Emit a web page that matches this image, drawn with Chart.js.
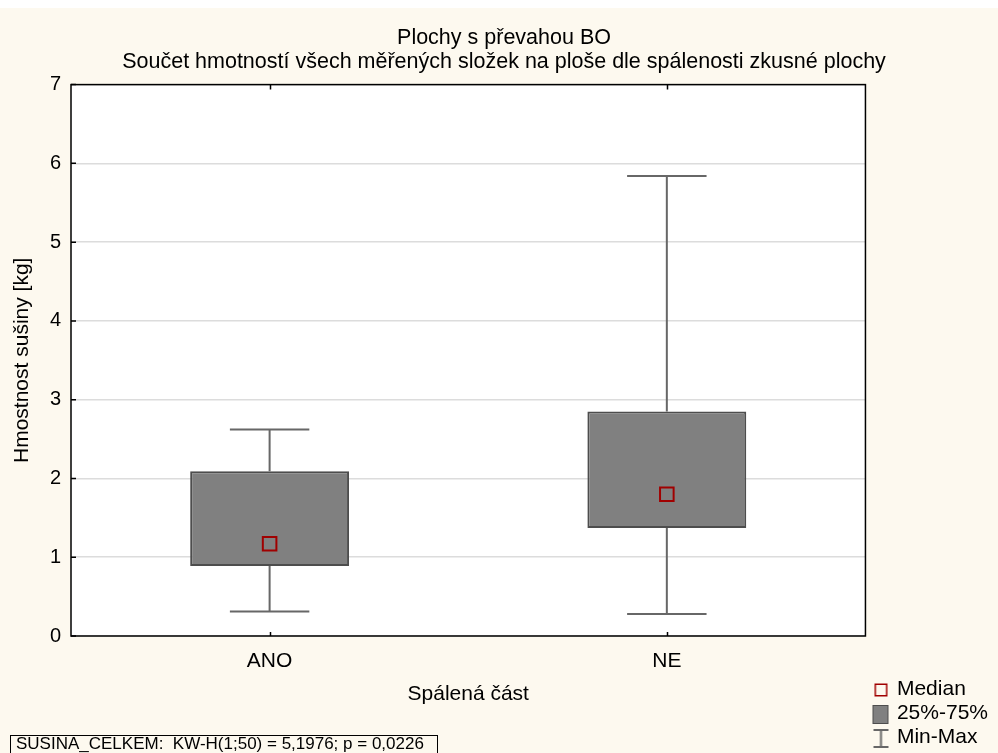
<!DOCTYPE html>
<html>
<head>
<meta charset="utf-8">
<title>Plochy s převahou BO</title>
<script src="https://cdn.jsdelivr.net/npm/chart.js@4/dist/chart.umd.min.js"></script>
<style>
html, body { margin: 0; padding: 0; }
body {
    width: 998px; height: 753px; position: relative; overflow: hidden;
    background: #fdf9ef;
    font-family: "Liberation Sans", Arial, sans-serif;
}
#topStrip { position: absolute; left: 0; top: 0; width: 998px; height: 8px; background: #ffffff; }
#boxChart { position: absolute; left: 0; top: 0; }
#statBox {
    position: absolute; left: 10px; top: 735px; width: 428px; height: 30px;
    border: 1px solid #000; box-sizing: border-box;
}
#statText {
    position: absolute; left: 16px; top: 735px;
    font-size: 17px; line-height: 17px; white-space: pre; color: #000;
}
</style>
</head>
<body>
<div id="topStrip"></div>
<canvas id="boxChart" width="998" height="753"></canvas>
<div id="statBox"></div>
<div id="statText">SUSINA_CELKEM:  KW-H(1;50) = 5,1976; p = 0,0226</div>

<script>

// ------------------------------
// Data
// ------------------------------

const categories = ["ANO", "NE"];
const minValues = [0.31, 0.28];
const q1Values = [0.89, 1.37];
const medianValues = [1.17, 1.80];
const q3Values = [2.09, 2.85];
const maxValues = [2.62, 5.84];

const yTicks = [0, 1, 2, 3, 4, 5, 6, 7];

const titleLines = [
    "Plochy s převahou BO",
    "Součet hmotností všech měřených složek na ploše dle spálenosti zkusné plochy"
];
const legendLabels = ["Median", "25%-75%", "Min-Max"];

// ------------------------------
// Colours
// ------------------------------

const boxFill = "#808080";
const boxEdge = "#4d4d4d";
const whiskerColor = "#676767";
const medianColor = "#a00000";

Chart.defaults.font.family = '"Liberation Sans", Arial, sans-serif';

// ------------------------------
// Legend icons
// ------------------------------

function makeIcon(draw){
    const c = document.createElement("canvas");
    c.width = 30;
    c.height = 21;
    draw(c.getContext("2d"));
    return c;
}

const medianIcon = makeIcon(function(g){
    g.strokeStyle = medianColor;
    g.lineWidth = 1.5;
    g.strokeRect(12.75, 5.25, 11.5, 11.5);
});

const boxIcon = makeIcon(function(g){
    g.fillStyle = boxFill;
    g.fillRect(10, 2, 16, 19);
    g.strokeStyle = boxEdge;
    g.lineWidth = 1;
    g.strokeRect(10.5, 2.5, 15, 18);
});

const whiskerIcon = makeIcon(function(g){
    g.strokeStyle = whiskerColor;
    g.lineWidth = 2;
    g.beginPath();
    g.moveTo(11, 3); g.lineTo(26, 3);
    g.moveTo(18.5, 3); g.lineTo(18.5, 20);
    g.moveTo(11, 20); g.lineTo(26, 20);
    g.stroke();
});

const legendIcons = [medianIcon, boxIcon, whiskerIcon];

// ------------------------------
// Plot frame + inner ticks
// ------------------------------

const plotFrame = {
    id: "plotFrame",
    beforeDraw: function(chart){
        const a = chart.chartArea;
        const ctx = chart.ctx;
        ctx.save();
        ctx.fillStyle = "#ffffff";
        ctx.fillRect(a.left, a.top, a.right - a.left, a.bottom - a.top);
        ctx.restore();
    },
    afterDraw: function(chart){
        const a = chart.chartArea;
        const ctx = chart.ctx;
        const xs = chart.scales.x;
        const ys = chart.scales.y;
        ctx.save();
        ctx.strokeStyle = "#000";
        ctx.lineWidth = 1.5;
        ctx.strokeRect(a.left, a.top, a.right - a.left, a.bottom - a.top);
        ctx.beginPath();
        yTicks.forEach(function(v){
            const y = ys.getPixelForValue(v);
            ctx.moveTo(a.left, y);
            ctx.lineTo(a.left + 5, y);
        });
        categories.forEach(function(c, i){
            const x = Math.round(xs.getPixelForValue(i)) + 0.5;
            ctx.moveTo(x, a.bottom);
            ctx.lineTo(x, a.bottom - 4);
            ctx.moveTo(x, a.top);
            ctx.lineTo(x, a.top + 5);
        });
        ctx.stroke();
        ctx.restore();
    }
};

// ------------------------------
// Whiskers (Min-Max)
// ------------------------------

const whiskers = {
    id: "whiskers",
    beforeDatasetsDraw: function(chart){
        const ctx = chart.ctx;
        const xs = chart.scales.x;
        const ys = chart.scales.y;
        const boxes = chart.getDatasetMeta(1).data;
        ctx.save();
        ctx.strokeStyle = whiskerColor;
        ctx.lineWidth = 2;
        ctx.beginPath();
        categories.forEach(function(c, i){
            const x = xs.getPixelForValue(i);
            const half = boxes[i].width / 4;
            const yMin = ys.getPixelForValue(minValues[i]);
            const yMax = ys.getPixelForValue(maxValues[i]);
            ctx.moveTo(x, yMax);
            ctx.lineTo(x, ys.getPixelForValue(q3Values[i]));
            ctx.moveTo(x, ys.getPixelForValue(q1Values[i]));
            ctx.lineTo(x, yMin);
            ctx.moveTo(x - half, yMax);
            ctx.lineTo(x + half, yMax);
            ctx.moveTo(x - half, yMin);
            ctx.lineTo(x + half, yMin);
        });
        ctx.stroke();
        ctx.restore();
    }
};

// ------------------------------
// Chart
// ------------------------------

const boxCtx = document.getElementById("boxChart");

new Chart(boxCtx, {

    type: "bar",

    data: {
        labels: categories,
        datasets: [
            {
                type: "line",
                label: legendLabels[0],
                data: medianValues,
                showLine: false,
                pointStyle: "rect",
                pointRadius: 9.6,
                pointHoverRadius: 9.6,
                pointBorderWidth: 2,
                pointBorderColor: medianColor,
                pointBackgroundColor: "rgba(0,0,0,0)"
            },
            {
                type: "bar",
                label: legendLabels[1],
                data: categories.map(function(c, i){
                    return [q1Values[i], q3Values[i]];
                }),
                backgroundColor: boxFill,
                borderColor: boxEdge,
                borderWidth: 2,
                borderSkipped: false,
                barPercentage: 0.4,
                categoryPercentage: 1
            }
        ]
    },

    options: {
        responsive: false,
        animation: false,
        events: [],
        layout: {
            padding: { left: 10, right: 0, top: 0, bottom: 2 }
        },
        plugins: {
            tooltip: { enabled: false },
            title: {
                display: true,
                text: titleLines,
                color: "#000",
                font: { size: 21.5, weight: "normal", lineHeight: 1.13 },
                padding: { top: 25.5, bottom: 10.5 }
            },
            legend: {
                display: true,
                position: "right",
                align: "end",
                maxWidth: 133,
                labels: {
                    usePointStyle: true,
                    boxWidth: 18,
                    padding: 3,
                    color: "#000",
                    font: { size: 21 },
                    generateLabels: function(){
                        return legendLabels.map(function(t, i){
                            return {
                                text: t,
                                pointStyle: legendIcons[i],
                                fillStyle: "rgba(0,0,0,0)",
                                strokeStyle: "rgba(0,0,0,0)",
                                lineWidth: 0,
                                fontColor: "#000",
                                hidden: false,
                                datasetIndex: 0
                            };
                        });
                    }
                }
            }
        },
        scales: {
            x: {
                offset: true,
                grid: { display: false, drawTicks: false },
                border: { display: false },
                ticks: {
                    color: "#000",
                    font: { size: 21 },
                    padding: 13,
                    autoSkip: false,
                    maxRotation: 0
                },
                title: {
                    display: true,
                    text: "Spálená část",
                    color: "#000",
                    font: { size: 21 },
                    padding: { top: 0, bottom: 44 }
                },
                afterFit: function(scale){
                    scale.height = 115;
                }
            },
            y: {
                min: 0,
                max: 7,
                grid: { color: "#dcdcdc", lineWidth: 1.5, drawTicks: false },
                border: { display: false },
                ticks: {
                    color: "#000",
                    font: { size: 20 },
                    padding: 10
                },
                afterBuildTicks: function(scale){
                    scale.ticks = yTicks.map(function(v){
                        return { value: v };
                    });
                },
                title: {
                    display: true,
                    text: "Hmostnost sušiny [kg]",
                    color: "#000",
                    font: { size: 21 },
                    padding: { top: 0, bottom: 0 }
                },
                afterFit: function(scale){
                    scale.width = 61;
                }
            }
        }
    },

    plugins: [plotFrame, whiskers]

});

</script>
</body>
</html>
